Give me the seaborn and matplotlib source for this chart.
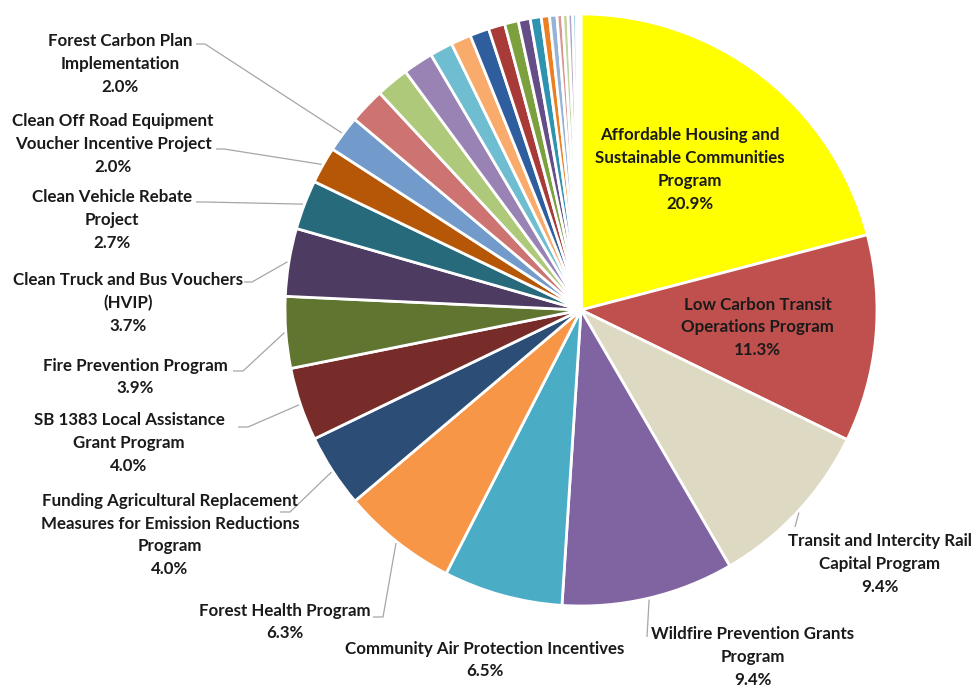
import matplotlib
matplotlib.use("Agg")
import matplotlib.pyplot as plt
import seaborn as sns
import numpy as np

# ---------------- data ----------------
programs = [
    "Affordable Housing and\nSustainable Communities\nProgram",
    "Low Carbon Transit\nOperations Program",
    "Transit and Intercity Rail\nCapital Program",
    "Wildfire Prevention Grants\nProgram",
    "Community Air Protection Incentives",
    "Forest Health Program",
    "Funding Agricultural Replacement\nMeasures for Emission Reductions\nProgram",
    "SB 1383 Local Assistance\nGrant Program",
    "Fire Prevention Program",
    "Clean Truck and Bus Vouchers\n(HVIP)",
    "Clean Vehicle Rebate\nProject",
    "Clean Off Road Equipment\nVoucher Incentive Project",
    "Forest Carbon Plan\nImplementation",
]
shares = [20.9, 11.3, 9.4, 9.4, 6.5, 6.3, 4.0, 4.0, 3.9, 3.7, 2.7, 2.0, 2.0]
# unlabeled smaller programs
other_shares = [1.95, 1.8, 1.65, 1.25, 1.1, 1.05, 0.9, 0.75, 0.65, 0.6,
                0.45, 0.4, 0.3, 0.3, 0.25, 0.2, 0.15, 0.1]

colors_main = ["#FFFF00", "#C0504D", "#DDD9C3", "#8064A2", "#4BACC6", "#F79646",
               "#2C4D75", "#772C2A", "#5F7530", "#4D3B62", "#276A7C", "#B65708",
               "#729ACA"]
colors_other = ["#CD7371", "#AFC97A", "#9983B5", "#6FBDD1", "#F9AB6B",
                "#2F5E9E", "#A83A38", "#7DA03F", "#654D88", "#2D93B0", "#EC7F22",
                "#95B3D7", "#D99694", "#C3D69B", "#B3A2C7", "#93CDDD", "#FAC090",
                "#C6D9F1"]

values = shares + other_shares
colors = colors_main + colors_other

# ---------------- layout ----------------
W, H = 980, 688
CX, CY, R = 581, 310, 296          # pixel coords (top-down)

sns.set_theme(style="white")
plt.rcParams["font.family"] = ["Lato", "DejaVu Sans"]

fig = plt.figure(figsize=(W / 100, H / 100), dpi=100)
ax = fig.add_axes([0, 0, 1, 1])

wedges, _ = ax.pie(values, colors=colors, startangle=90, counterclock=False,
                   center=(CX, H - CY), radius=R, frame=True,
                   wedgeprops=dict(edgecolor="white", linewidth=2.0))
ax.set_xlim(0, W)
ax.set_ylim(0, H)
ax.set_aspect("equal")
ax.axis("off")

total = sum(values)
cum = np.cumsum([0] + values)
mid_frac = [(cum[i] + values[i] / 2) / total for i in range(len(shares))]


def on_circle(frac, rr):
    ang = 2 * np.pi * frac
    return CX + rr * np.sin(ang), CY - rr * np.cos(ang)


FS = 12.2
LS = 1.52
txt_kw = dict(fontsize=FS, fontweight="bold", color="#1a1a1a",
              ha="center", va="center", linespacing=LS)

# label centers (pixel, top-down) for outside labels; None -> inside label
label_pos = [None, None, (880, 564), (753, 657), (485, 660), (285, 622),
             (170, 535), (129, 443), (135, 377), (128, 303), (112, 220),
             (113, 144), (120, 64)]
# leader line start points at label side (pixel, top-down)
leader = [None, None,
          [(795, 527)],
          [(647, 637)],
          None,
          [(373, 617), (383, 617)],
          [(280, 512), (290, 512)],
          [(238, 427), (248, 427)],
          [(233, 371), (243, 371)],
          [(244, 282), (252, 282)],
          [(196, 202), (205, 202)],
          [(216, 149), (224, 149)],
          [(196, 44), (205, 44)]]

for i, name in enumerate(programs):
    text = f"{name}\n{shares[i]:.1f}%"
    if label_pos[i] is None:
        x, y = on_circle(mid_frac[i], 0.6 * R)
    else:
        x, y = label_pos[i]
    ax.text(x, H - y, text, **txt_kw)
    if leader[i] is not None:
        ex, ey = on_circle(mid_frac[i], 1.005 * R)
        pts = leader[i] + [(ex, ey)]
        ax.plot([p[0] for p in pts], [H - p[1] for p in pts],
                color="#A6A6A6", lw=0.9, solid_capstyle="butt")

fig.savefig("out.png", dpi=100, facecolor="white")
